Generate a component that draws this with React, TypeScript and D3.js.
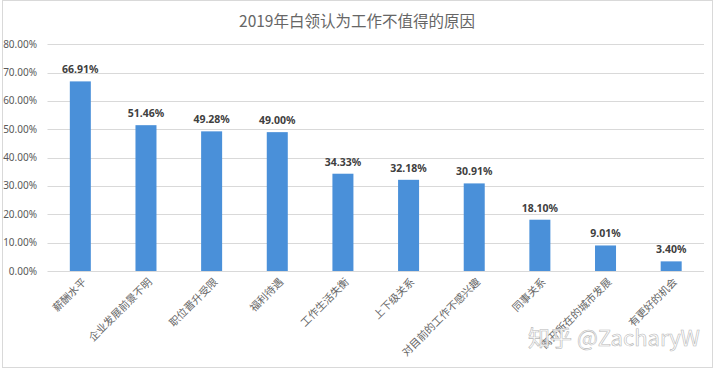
import React, { useEffect, useRef } from 'react';
import * as d3 from 'd3';

// reasons, share of white-collar workers (%)
const categories = [
  '薪酬水平',
  '企业发展前景不明',
  '职位晋升受限',
  '福利待遇',
  '工作生活失衡',
  '上下级关系',
  '对目前的工作不感兴趣',
  '同事关系',
  '离开所在的城市发展',
  '有更好的机会',
];
const values = [66.91, 51.46, 49.28, 49.0, 34.33, 32.18, 30.91, 18.1, 9.01, 3.4];
const yTicks = [0, 10, 20, 30, 40, 50, 60, 70, 80];

const title = '2019年白领认为工作不值得的原因';

const App = () => {
  const svgRef = useRef<SVGSVGElement>(null);

  useEffect(() => {
    const width = 716;
    const height = 369;
    const svg = d3.select(svgRef.current)
      .attr('width', width)
      .attr('height', height);

    svg.selectAll('*').remove();

    const font = '"Noto Sans", "Noto Sans CJK SC", sans-serif';
    const cjk = '"Noto Sans CJK SC", sans-serif';

    svg.append('rect')
      .attr('width', width)
      .attr('height', height)
      .attr('fill', '#fff');

    // outer frame
    svg.append('rect')
      .attr('x', 2.5)
      .attr('y', 0.5)
      .attr('width', 710)
      .attr('height', 367)
      .attr('fill', 'none')
      .attr('stroke', '#d9d9d9');

    const x = d3.scaleBand()
      .domain(categories)
      .range([47.5, 704])
      .paddingInner(0.68)
      .paddingOuter(0.34);

    const y = d3.scaleLinear()
      .domain([0, 80])
      .range([271, 44.3]);

    // gridlines + y labels
    const grid = svg.append('g');
    grid.selectAll('line')
      .data(yTicks)
      .join('line')
      .attr('x1', 47.5)
      .attr('x2', 704)
      .attr('y1', d => Math.round(y(d)) + 0.5)
      .attr('y2', d => Math.round(y(d)) + 0.5)
      .attr('stroke', '#d9d9d9')
      .attr('stroke-width', 1);

    grid.selectAll('text')
      .data(yTicks)
      .join('text')
      .attr('x', 37)
      .attr('y', d => y(d))
      .attr('dy', '0.35em')
      .attr('text-anchor', 'end')
      .style('font-family', font)
      .style('font-size', '10px')
      .style('fill', '#595959')
      .text(d => d.toFixed(2) + '%');

    // bars
    svg.selectAll('.bar')
      .data(values)
      .join('rect')
      .attr('class', 'bar')
      .attr('x', (d, i) => x(categories[i])!)
      .attr('y', d => y(d))
      .attr('width', x.bandwidth())
      .attr('height', d => y(0) - y(d))
      .attr('fill', '#4a90d9');

    // value labels
    svg.selectAll('.label')
      .data(values)
      .join('text')
      .attr('class', 'label')
      .attr('x', (d, i) => x(categories[i])! + x.bandwidth() / 2)
      .attr('y', d => y(d) - 8)
      .attr('text-anchor', 'middle')
      .style('font-family', font)
      .style('font-weight', 'bold')
      .style('font-size', '10.5px')
      .style('fill', '#404040')
      .text(d => d.toFixed(2) + '%');

    // category labels, rotated
    svg.selectAll('.cat')
      .data(categories)
      .join('text')
      .attr('class', 'cat')
      .attr('transform', d => `translate(${x(d)! + x.bandwidth() / 2 + 4}, 280) rotate(-45)`)
      .attr('dy', '0.35em')
      .attr('text-anchor', 'end')
      .style('font-family', cjk)
      .style('font-size', '10.5px')
      .style('fill', '#666666')
      .text(d => d);

    svg.append('text')
      .attr('x', 357)
      .attr('y', 27)
      .attr('text-anchor', 'middle')
      .style('font-family', cjk)
      .style('font-size', '15.5px')
      .style('fill', '#666666')
      .text(title);

    // watermark
    svg.append('text')
      .attr('x', 528)
      .attr('y', 346)
      .style('font-family', cjk)
      .style('font-size', '22px')
      .style('fill', '#ffffff')
      .style('fill-opacity', 0.9)
      .style('stroke', '#b8b8b8')
      .style('stroke-width', 0.6)
      .text('知乎 @ZacharyW');
  }, []);

  return <svg ref={svgRef} style={{ position: 'absolute', left: 0, top: 0 }}></svg>;
};

export default App;
